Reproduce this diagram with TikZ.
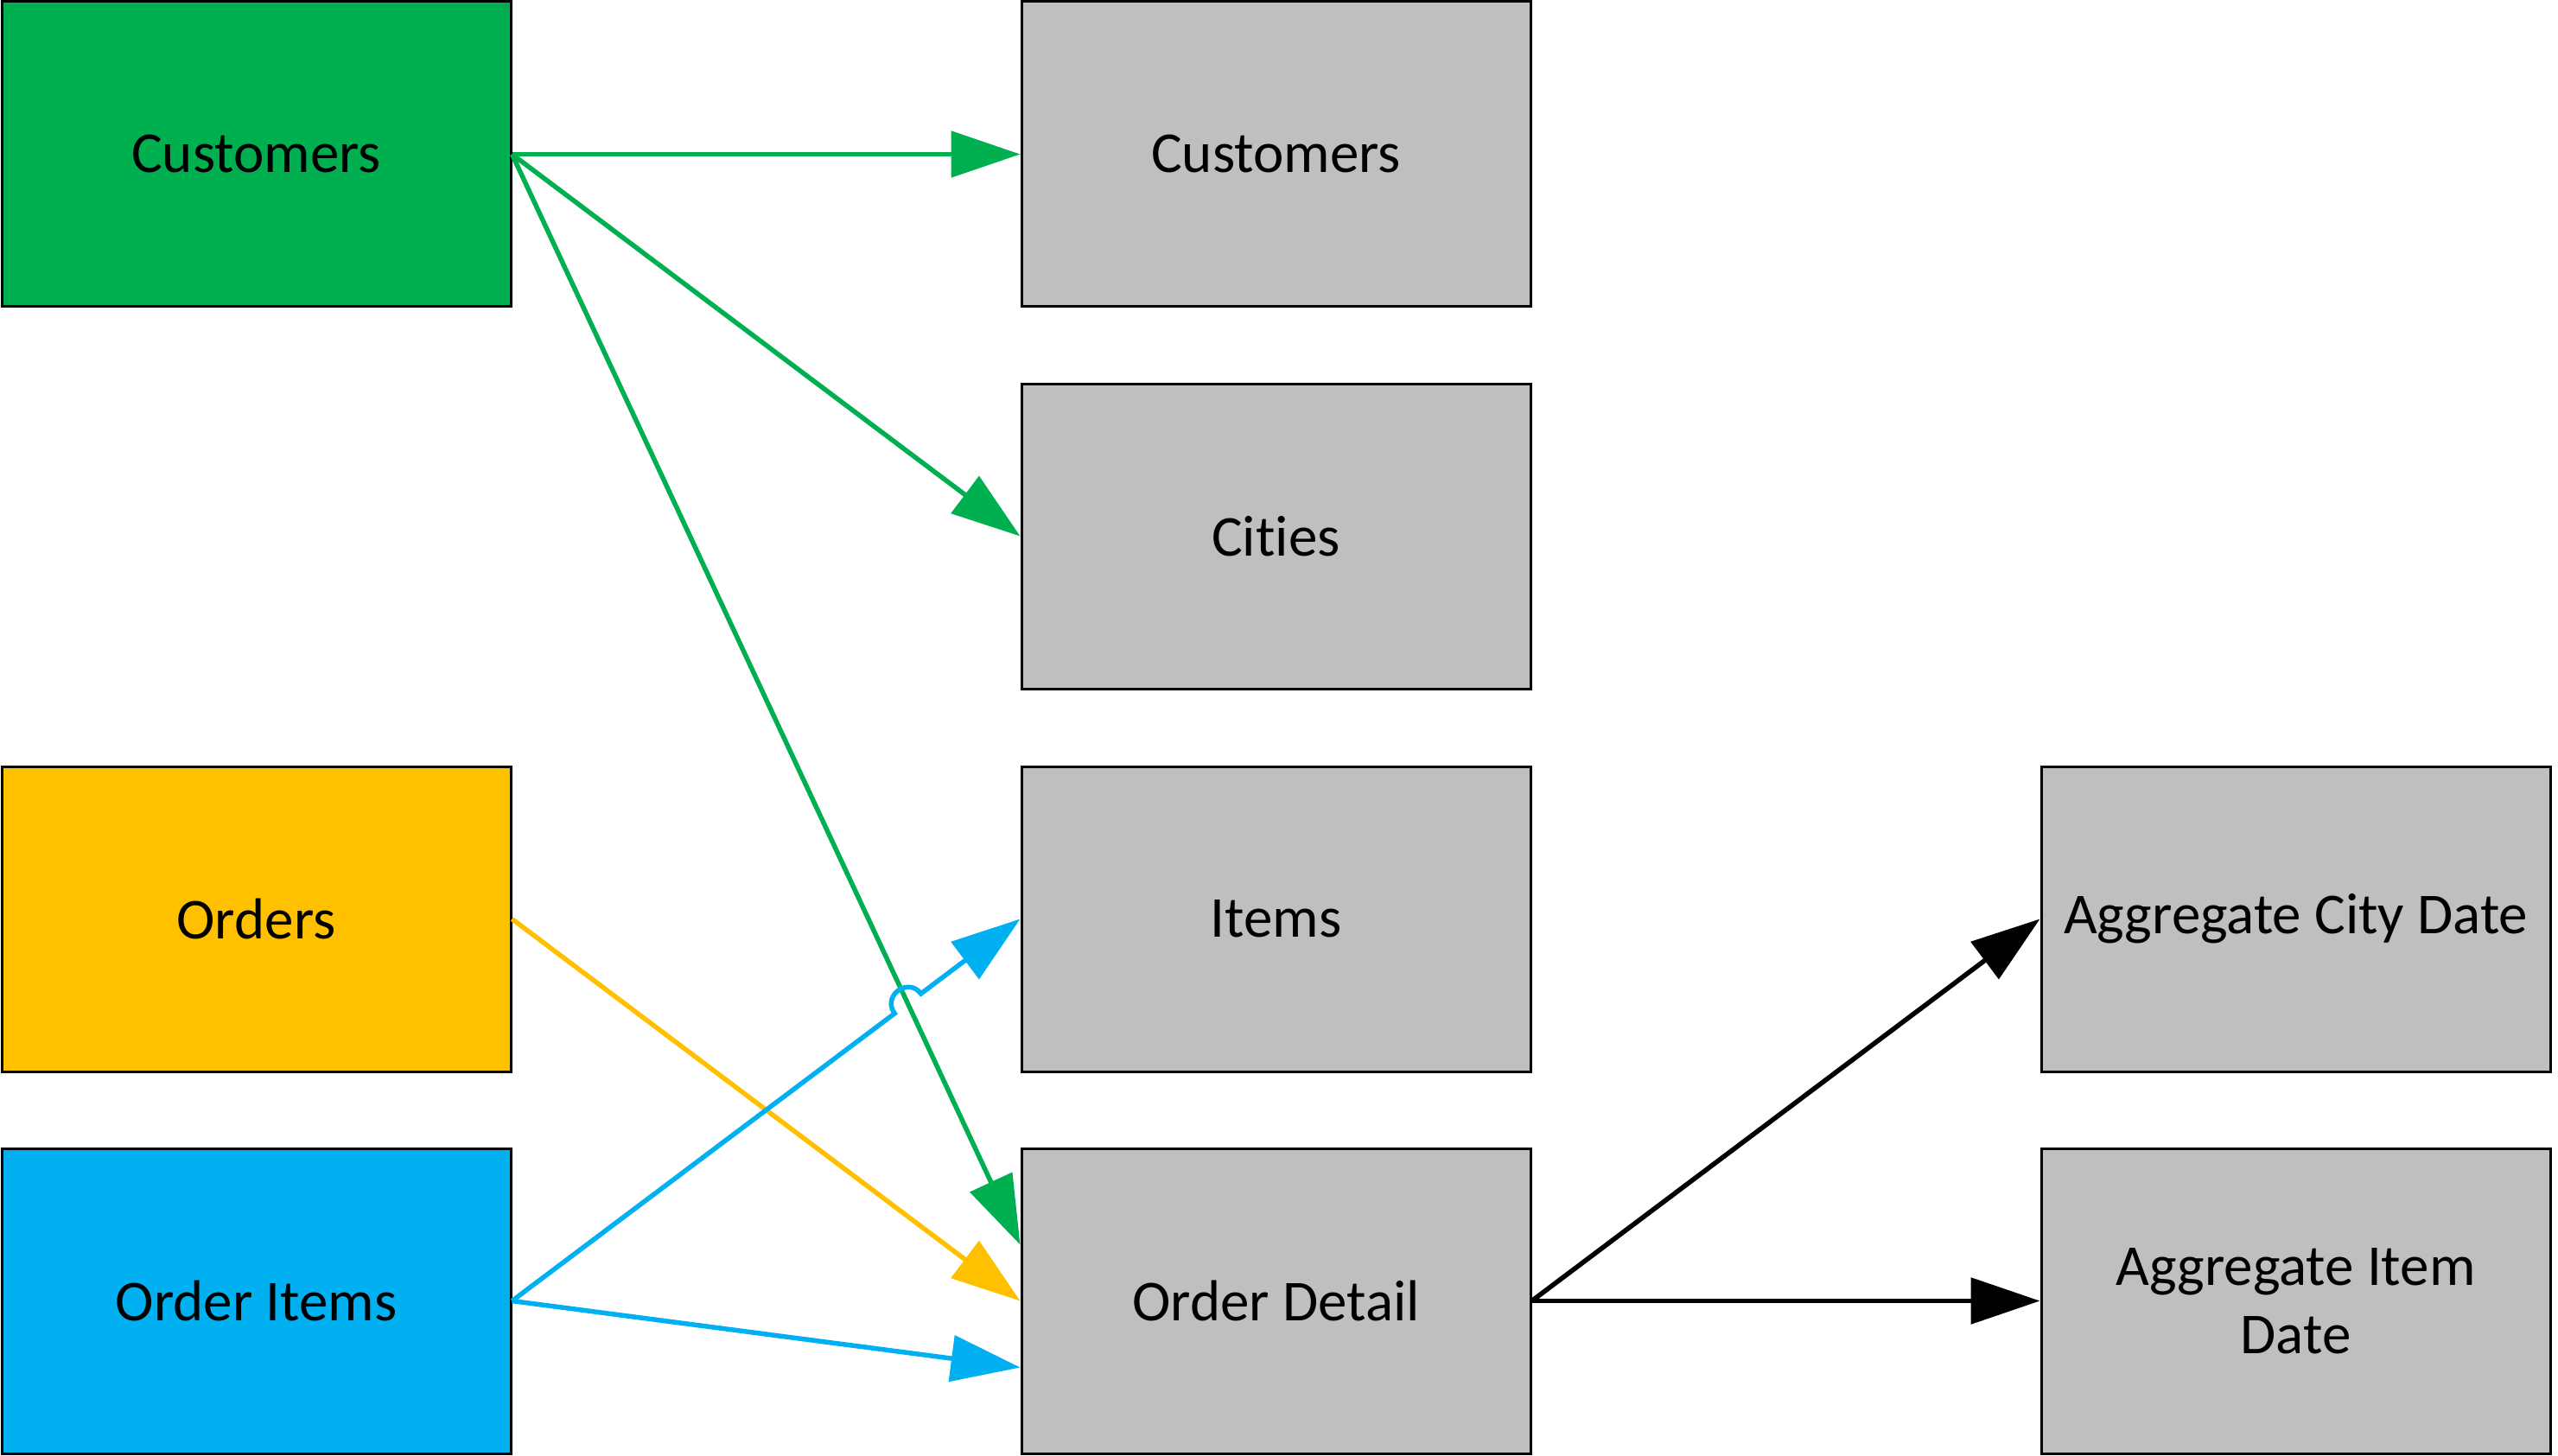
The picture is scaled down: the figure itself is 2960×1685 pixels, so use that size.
\documentclass[tikz,border=0pt]{standalone}
\usepackage{fontspec}
\setmainfont{Carlito}[Ligatures=NoCommon]
\usetikzlibrary{arrows.meta,calc}
\definecolor{cgreen}{HTML}{00B050}
\definecolor{cyellow}{HTML}{FFC000}
\definecolor{cblue}{HTML}{00B0F0}
\definecolor{cgray}{HTML}{BFBFBF}
\begin{document}
\begin{tikzpicture}[x=1pt,y=-1pt,
  box/.style={draw=black,line width=3pt,minimum width=589pt,minimum height=353pt,inner sep=0pt,align=center,font=\fontsize{67}{79}\selectfont},
  gbox/.style={box,fill=cgray},
  conn/.style={line width=5.5pt,-{Triangle[length=80pt,width=53pt]}}]
\useasboundingbox (0,0) rectangle (2960,1685);
\fill[white] (0,0) rectangle (2960,1685);
% sources
\node[box,fill=cgreen]  (src1) at (296.5,178.5)  {Customers};
\node[box,fill=cyellow] (src2) at (296.5,1063.5) {Orders};
\node[box,fill=cblue]   (src3) at (296.5,1505.5) {Order Items};
% targets
\node[gbox] (dst1) at (1476.5,178.5)  {Customers};
\node[gbox] (dst2) at (1476.5,620.5)  {Cities};
\node[gbox] (dst3) at (1476.5,1063.5) {Items};
\node[gbox] (od)   at (1476.5,1505.5) {Order Detail};
\node[gbox] (agg1) at (2656.5,1063.5) {Aggregate City Date};
\node[gbox] (agg2) at (2656.5,1505.5) {Aggregate Item\\Date};
% helper coordinates
\coordinate (odg) at ($(od.west)+(0,-65)$);
\coordinate (odb) at ($(od.west)+(0,77)$);
\coordinate (hop) at (intersection of src3.east--dst3.west and src1.east--odg);
\coordinate (h1) at ($(hop)!19pt!(src3.east)$);
\coordinate (h2) at ($(hop)!19pt!(dst3.west)$);
% connectors
\draw[conn,cgreen] (src1.east) -- (dst1.west);
\draw[conn,cgreen] (src1.east) -- (dst2.west);
\draw[conn,cgreen] (src1.east) -- (odg);
\draw[conn,cyellow] (src2.east) -- (od.west);
\draw[conn,cblue] (src3.east) -- (h1) .. controls ($(h1)!25pt!90:(hop)$) and ($(h2)!25pt!-90:(hop)$) .. (h2) -- (dst3.west);
\draw[conn,cblue] (src3.east) -- (odb);
\draw[conn,black] (od.east) -- (agg1.west);
\draw[conn,black] (od.east) -- (agg2.west);
\end{tikzpicture}
\end{document}
